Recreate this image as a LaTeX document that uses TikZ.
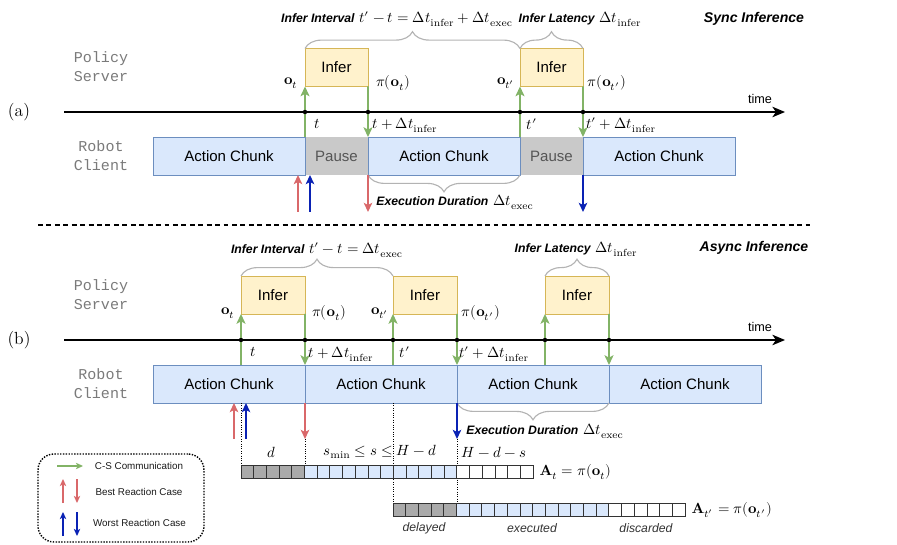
\documentclass[tikz,border=0pt]{standalone}
\usepackage{fontspec}
\usepackage{unicode-math}
\setsansfont{Liberation Sans}
\setmonofont{Liberation Mono}
\setmathfont{Latin Modern Math}
\usetikzlibrary{arrows.meta,decorations.pathreplacing,positioning}

\definecolor{chunkfill}{HTML}{DAE8FC}
\definecolor{chunkline}{HTML}{6C8EBF}
\definecolor{inferfill}{HTML}{FFF2CC}
\definecolor{inferline}{HTML}{D6B656}
\definecolor{pausefill}{HTML}{C9C9C9}
\definecolor{pausetext}{HTML}{555555}
\definecolor{lanegray}{HTML}{7A7A7A}
\definecolor{commgreen}{HTML}{82B366}
\definecolor{bestred}{HTML}{D9686A}
\definecolor{worstblue}{HTML}{0A22B4}
\definecolor{bracegray}{HTML}{B3B3B3}
\definecolor{cellgray}{HTML}{AAAAAA}
\definecolor{cellline}{HTML}{333333}
\definecolor{wordgray}{HTML}{333333}

\newcommand{\bitext}[1]{{\sffamily\bfseries\itshape\fontsize{8.7}{10}\selectfont #1}}

\begin{document}
\begin{tikzpicture}[x=0.25mm, y=-0.25mm]
    \tikzset{chunk/.style = {draw=chunkline, fill=chunkfill, line width=0.7pt, minimum width=38mm, minimum height=9.5mm, inner sep=0pt, outer sep=0pt, font=\sffamily\fontsize{10.7}{12}\selectfont}}
    \tikzset{pause/.style = {fill=pausefill, text=pausetext, minimum width=15.75mm, minimum height=9.5mm, inner sep=0pt, outer sep=0pt, font=\sffamily\fontsize{10.7}{12}\selectfont}}
    \tikzset{infer/.style = {draw=inferline, fill=inferfill, line width=0.7pt, minimum width=16mm, minimum height=9.5mm, inner sep=0pt, outer sep=0pt, font=\sffamily\fontsize{10.7}{12}\selectfont}}
    \tikzset{lane/.style = {font=\ttfamily\fontsize{10.7}{13.5}\selectfont, text=lanegray, align=center}}
    \tikzset{math/.style = {font=\fontsize{10.5}{12}\selectfont, inner sep=1pt}}
    \tikzset{note/.style = {font=\fontsize{10.5}{12}\selectfont, inner sep=1pt}}
    \tikzset{title/.style = {font=\sffamily\bfseries\itshape\fontsize{10}{12}\selectfont, inner sep=1pt}}
    \tikzset{timelbl/.style = {font=\sffamily\fontsize{9}{10}\selectfont, inner sep=1pt}}
    \tikzset{word/.style = {font=\sffamily\itshape\fontsize{8.7}{10}\selectfont, text=wordgray, inner sep=1pt}}
    \tikzset{legtext/.style = {font=\sffamily\fontsize{7}{8}\selectfont, text=black!90, inner sep=1pt}}
    \tikzset{comm/.style = {draw=commgreen, line width=1.1pt, -{Stealth[length=7pt, width=6.5pt, inset=1.8pt]}}}
    \tikzset{best/.style = {draw=bestred, line width=1.5pt, -{Stealth[length=6.5pt, width=6pt, inset=1.5pt]}}}
    \tikzset{worst/.style = {draw=worstblue, line width=1.5pt, -{Stealth[length=6.5pt, width=6pt, inset=1.5pt]}}}
    \tikzset{legarrow/.style = {line width=1pt, -{Stealth[length=5pt, width=4.5pt, inset=1.2pt]}}}
    \tikzset{brc/.style = {draw=bracegray, line width=0.8pt, decorate, decoration={brace, amplitude=4.2mm}}}
    \tikzset{axis/.style = {line width=0.9pt, -{Stealth[length=9pt, width=7.5pt, inset=2.5pt]}}}
    \tikzset{cell/.style = {draw=cellline, line width=0.6pt}}
    \tikzset{guide/.style = {densely dotted, line width=0.7pt}}
    \useasboundingbox (0,0) rectangle (897,545);

    % (a) sync inference
    \node[font=\fontsize{12.5}{14}\selectfont] (laba) at (19,112) {(a)};
    \node[lane] (ps1) at (101,67) {Policy\\Server};
    \node[lane] (rc1) at (101,156) {Robot\\Client};
    \node[title] (sync) at (754,19) {Sync Inference};
    \node[pause] (p1) at (336.5,156) {Pause};
    \node[pause] (p2) at (551.5,156) {Pause};
    \node[chunk] (c1) at (229,156) {Action Chunk};
    \node[chunk] (c2) at (444,156) {Action Chunk};
    \node[chunk] (c3) at (659,156) {Action Chunk};
    \node[infer, minimum width=15.75mm] (i1) at (336.5,67.5) {Infer};
    \node[infer, minimum width=15.75mm] (i2) at (551.5,67.5) {Infer};
    \coordinate (a0) at (64,112);
    \coordinate (a1) at (785,112);
    \draw[axis] (a0) -- (a1);
    \node[timelbl] (time1) at (760,99) {time};
    % communication
    \draw[comm] (c1.north east) -- (i1.south west);
    \draw[comm] (i1.south east) -- (c2.north west);
    \draw[comm] (c2.north east) -- (i2.south west);
    \draw[comm] (i2.south east) -- (c3.north west);
    \foreach \n in {c1.north east, c2.north west, c2.north east, c3.north west}
        \fill (a0 -| \n) circle (0.55mm);
    \node[math] (ot1) at (291,83) {$\mathbf{o}_t$};
    \node[math] (po1) at (393,83) {$\pi(\mathbf{o}_t)$};
    \node[math] (ot2) at (506,83) {$\mathbf{o}_{t'}$};
    \node[math] (po2) at (607,83) {$\pi(\mathbf{o}_{t'})$};
    \node[math] (t1) at (317,124) {$t$};
    \node[math] (td1) at (405,125) {$t+\Delta t_{\mathrm{infer}}$};
    \node[math] (t2) at (532,124) {$t'$};
    \node[math] (td2) at (621,125) {$t'+\Delta t_{\mathrm{infer}}$};
    % braces
    \draw[brc] (i1.north west) -- (i2.north west);
    \draw[brc] (i2.north west) -- (i2.north east);
    \draw[brc] (p2.south west) -- (c2.south west);
    \node[note] (ii1) at (397,19) {\bitext{Infer Interval} $t'-t=\Delta t_{\mathrm{infer}}+\Delta t_{\mathrm{exec}}$};
    \node[note] (il1) at (580,19) {\bitext{Infer Latency} $\Delta t_{\mathrm{infer}}$};
    \node[note] (ed1) at (455,202) {\bitext{Execution Duration} $\Delta t_{\mathrm{exec}}$};
    % reaction
    \coordinate (r1) at (298,212);
    \coordinate (u1) at (310,212);
    \draw[best] (r1) -- (r1 |- c1.south);
    \draw[worst] (u1) -- (u1 |- c1.south);
    \draw[best] (c2.south west) -- (c2.south west |- r1);
    \draw[worst] (c3.south west) -- (c3.south west |- r1);

    % separator
    \coordinate (s0) at (38,225);
    \coordinate (s1) at (810,225);
    \draw[line width=0.9pt, dash pattern=on 3.5pt off 2.5pt] (s0) -- (s1);

    % (b) async inference
    \node[font=\fontsize{12.5}{14}\selectfont] (labb) at (19,340) {(b)};
    \node[lane] (ps2) at (101,294.5) {Policy\\Server};
    \node[lane] (rc2) at (101,383.5) {Robot\\Client};
    \node[title] (async) at (754,248) {Async Inference};
    \node[chunk] (b1) at (229,384) {Action Chunk};
    \node[chunk] (b2) at (381,384) {Action Chunk};
    \node[chunk] (b3) at (533,384) {Action Chunk};
    \node[chunk] (b4) at (685,384) {Action Chunk};
    \node[infer] (j1) at (273,295) {Infer};
    \node[infer] (j2) at (425,295) {Infer};
    \node[infer] (j3) at (577,295) {Infer};
    \coordinate (b0) at (64,340);
    \coordinate (bx) at (785,340);
    \draw[axis] (b0) -- (bx);
    \node[timelbl] (time2) at (760,327) {time};
    % communication
    \draw[comm] (j1.south west |- b1.north) -- (j1.south west);
    \draw[comm] (j1.south east) -- (b2.north west);
    \draw[comm] (j2.south west |- b2.north) -- (j2.south west);
    \draw[comm] (j2.south east) -- (b3.north west);
    \draw[comm] (j3.south west |- b3.north) -- (j3.south west);
    \draw[comm] (j3.south east) -- (b4.north west);
    \foreach \n in {j1.south west, j1.south east, j2.south west, j2.south east, j3.south west, j3.south east}
        \fill (b0 -| \n) circle (0.55mm);
    \node[math] (ot3) at (228,313) {$\mathbf{o}_t$};
    \node[math] (po3) at (329,313) {$\pi(\mathbf{o}_t)$};
    \node[math] (ot4) at (380,313) {$\mathbf{o}_{t'}$};
    \node[math] (po4) at (481,313) {$\pi(\mathbf{o}_{t'})$};
    \node[math] (t3) at (253,352) {$t$};
    \node[math] (td3) at (341,354) {$t+\Delta t_{\mathrm{infer}}$};
    \node[math] (t4) at (405,352) {$t'$};
    \node[math] (td4) at (494,354) {$t'+\Delta t_{\mathrm{infer}}$};
    % braces
    \draw[brc] (j1.north west) -- (j2.north west);
    \draw[brc] (j3.north west) -- (j3.north east);
    \draw[brc] (b3.south east) -- (b3.south west);
    \node[note] (ii2) at (317,250) {\bitext{Infer Interval} $t'-t=\Delta t_{\mathrm{exec}}$};
    \node[note] (il2) at (576,249) {\bitext{Infer Latency} $\Delta t_{\mathrm{infer}}$};
    \node[note] (ed2) at (545,431) {\bitext{Execution Duration} $\Delta t_{\mathrm{exec}}$};
    % reaction
    \coordinate (r2) at (234,439);
    \coordinate (u2) at (246,439);
    \coordinate (bar1) at (241,465);
    \coordinate (bar2) at (393,503);
    \draw[guide] (bar1 |- b1.south) -- (bar1);
    \draw[guide] (b1.south east |- r2) -- (b1.south east |- bar1);
    \draw[guide] (bar2 |- b2.south) -- (bar2);
    \draw[guide] (b2.south east |- r2) -- (b2.south east |- bar2);
    \draw[best] (r2) -- (r2 |- b1.south);
    \draw[worst] (u2) -- (u2 |- b1.south);
    \draw[best] (b1.south east) -- (b1.south east |- r2);
    \draw[worst] (b2.south east) -- (b2.south east |- r2);

    % action sequences
    \foreach \i in {0,...,4}
        \draw[cell, fill=cellgray] ({241+12.7*\i},465) rectangle ++(12.7,13);
    \foreach \i in {5,...,16}
        \draw[cell, fill=chunkfill] ({241+12.7*\i},465) rectangle ++(12.7,13);
    \foreach \i in {17,...,22}
        \draw[cell, fill=white] ({241+12.7*\i},465) rectangle ++(12.7,13);
    \foreach \i in {0,...,4}
        \draw[cell, fill=cellgray] ({393+12.7*\i},503) rectangle ++(12.7,13);
    \foreach \i in {5,...,16}
        \draw[cell, fill=chunkfill] ({393+12.7*\i},503) rectangle ++(12.7,13);
    \foreach \i in {17,...,22}
        \draw[cell, fill=white] ({393+12.7*\i},503) rectangle ++(12.7,13);
    \node[math] (dl) at (272,452) {$d$};
    \node[math] (sl) at (380,452) {$s_{\min}\le s\le H-d$};
    \node[math] (hl) at (494,452) {$H-d-s$};
    \node[math, anchor=west] (at1) at (538,472) {$\mathbf{A}_t=\pi(\mathbf{o}_t)$};
    \node[math, anchor=west] (at2) at (690,510) {$\mathbf{A}_{t'}=\pi(\mathbf{o}_{t'})$};
    \node[word] (w1) at (424,528) {delayed};
    \node[word] (w2) at (532,528) {executed};
    \node[word] (w3) at (646,528) {discarded};

    % legend
    \node[draw, densely dotted, line width=1pt, rounded corners=4mm, minimum width=41.5mm, minimum height=22mm] (leg) at (121,498) {};
    \coordinate (g0) at (57,466);
    \coordinate (g1) at (83,466);
    \draw[comm, legarrow] (g0) -- (g1);
    \coordinate (lb0) at (63,503);
    \coordinate (lb1) at (77,479);
    \draw[best, legarrow] (lb0) -- (lb0 |- lb1);
    \draw[best, legarrow] (lb1) -- (lb1 |- lb0);
    \coordinate (lw0) at (63,536);
    \coordinate (lw1) at (77,512);
    \draw[worst, legarrow] (lw0) -- (lw0 |- lw1);
    \draw[worst, legarrow] (lw1) -- (lw1 |- lw0);
    \node[legtext] (lt1) at (139,466) {C-S Communication};
    \node[legtext] (lt2) at (139,492) {Best Reaction Case};
    \node[legtext] (lt3) at (139.5,523) {Worst Reaction Case};
\end{tikzpicture}
\end{document}
